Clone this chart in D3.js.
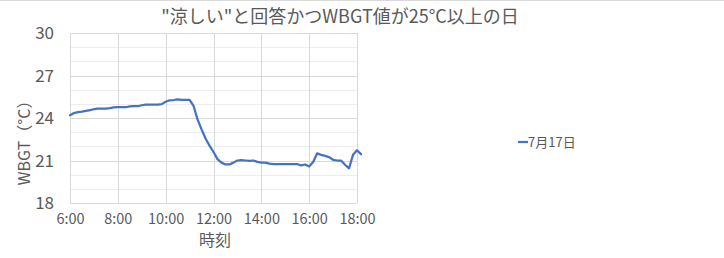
<!DOCTYPE html>
<html><head><meta charset="utf-8">
<script src="https://cdn.jsdelivr.net/npm/d3@7"></script>
<style>
html,body{margin:0;padding:0;background:#fff;}
text{font-family:"Noto Sans CJK JP","Noto Sans",sans-serif;fill:#595959;}
</style></head>
<body>
<svg id="c" width="724" height="258"></svg>
<script>
const title = '"涼しい"と回答かつWBGT値が25°C以上の日';
const seriesName = "7月17日";
const xAxisTitle = "時刻";
const yAxisTitle = "WBGT（°C）";
const times = ["6:00","6:10","6:20","6:30","6:40","6:50","7:00","7:10","7:20","7:30","7:40","7:50",
"8:00","8:10","8:20","8:30","8:40","8:50","9:00","9:10","9:20","9:30","9:40","9:50",
"10:00","10:10","10:20","10:30","10:40","10:50","11:00","11:10","11:20","11:30","11:40","11:50",
"12:00","12:10","12:20","12:30","12:40","12:50","13:00","13:10","13:20","13:30","13:40","13:50",
"14:00","14:10","14:20","14:30","14:40","14:50","15:00","15:10","15:20","15:30","15:40","15:50",
"16:00","16:10","16:20","16:30","16:40","16:50","17:00","17:10","17:20","17:30","17:40","17:50",
"18:00","18:10"];
const values = [24.20,24.35,24.42,24.45,24.50,24.55,24.62,24.66,24.66,24.66,24.70,24.75,
24.76,24.76,24.76,24.82,24.83,24.83,24.90,24.94,24.94,24.94,24.94,24.98,
25.15,25.25,25.27,25.32,25.28,25.28,25.28,24.85,23.90,23.20,22.55,22.05,
21.60,21.10,20.85,20.72,20.72,20.85,21.00,21.03,21.00,20.97,21.00,20.90,
20.85,20.85,20.78,20.75,20.75,20.75,20.75,20.75,20.75,20.75,20.65,20.72,
20.58,20.90,21.50,21.40,21.33,21.24,21.05,21.00,21.00,20.70,20.45,21.40,
21.72,21.45];
const xTickLabels = ["6:00","8:00","10:00","12:00","14:00","16:00","18:00"];
const yTickLabels = [18,21,24,27,30];
const yMinor = [18,19,20,21,22,23,24,25,26,27,28,29,30];

const toH = s => { const [h,m] = s.split(":").map(Number); return h + m/60; };
const data = times.map((t,i)=>({x:toH(t), y:values[i]}));

const svg = d3.select("#c");
svg.append("rect").attr("width",724).attr("height",258).attr("fill","#fff");
svg.append("line").attr("x1",0).attr("x2",724).attr("y1",0.5).attr("y2",0.5).attr("stroke","#d9d9d9");

const x = d3.scaleLinear().domain([6,18]).range([70,357]);
const y = d3.scaleLinear().domain([18,30]).range([203,33]);

const g = svg.append("g");
// minor horizontal grid
g.selectAll(".hm").data(yMinor.filter(v=>!yTickLabels.includes(v))).join("line")
  .attr("x1",x(6)).attr("x2",x(18)).attr("y1",d=>Math.round(y(d))+0.5).attr("y2",d=>Math.round(y(d))+0.5)
  .attr("stroke","#ededed").attr("stroke-width",1);
// major horizontal grid
g.selectAll(".hM").data(yTickLabels).join("line")
  .attr("x1",x(6)).attr("x2",x(18)).attr("y1",d=>Math.round(y(d))+0.5).attr("y2",d=>Math.round(y(d))+0.5)
  .attr("stroke","#d9d9d9").attr("stroke-width",1);
// vertical grid
g.selectAll(".v").data(xTickLabels).join("line")
  .attr("x1",d=>Math.round(x(toH(d)))+0.5).attr("x2",d=>Math.round(x(toH(d)))+0.5)
  .attr("y1",y(30)).attr("y2",y(18)).attr("stroke","#d9d9d9").attr("stroke-width",1);

// axes (text only)
const yAxis = d3.axisLeft(y).tickValues(yTickLabels).tickSize(0).tickPadding(0);
const ya = svg.append("g").attr("transform","translate(54,0)").call(yAxis);
ya.select(".domain").remove();
ya.selectAll("text").style("font-size","17px").attr("fill","#595959").attr("dy","0.35em");

const xAxis = d3.axisBottom(x).tickValues(xTickLabels.map(toH)).tickFormat((d,i)=>xTickLabels[i]).tickSize(0).tickPadding(0);
const xa = svg.append("g").attr("transform","translate(0,214)").call(xAxis);
xa.select(".domain").remove();
xa.selectAll("text").style("font-size","14.5px").attr("fill","#595959").attr("dy","0.71em");

// line
svg.append("path").datum(data)
  .attr("d", d3.line().x(d=>x(d.x)).y(d=>y(d.y)))
  .attr("fill","none").attr("stroke","#4472C4").attr("stroke-width",2.25)
  .attr("stroke-linejoin","round").attr("stroke-linecap","round");

// title
svg.append("text").attr("x",340).attr("y",23).attr("text-anchor","middle")
  .style("font-size","18px").text(title);
// axis titles
svg.append("text").attr("x",215).attr("y",246).attr("text-anchor","middle")
  .style("font-size","16px").text(xAxisTitle);
svg.append("text").attr("transform","translate(30,139) rotate(-90)").attr("text-anchor","middle")
  .style("font-size","16px").text(yAxisTitle);

// legend
svg.append("line").attr("x1",518).attr("x2",528).attr("y1",142).attr("y2",142)
  .attr("stroke","#4472C4").attr("stroke-width",2.25);
svg.append("text").attr("x",528).attr("y",142).attr("dy","0.35em")
  .style("font-size","13px").text(seriesName);
</script>
</body></html>
